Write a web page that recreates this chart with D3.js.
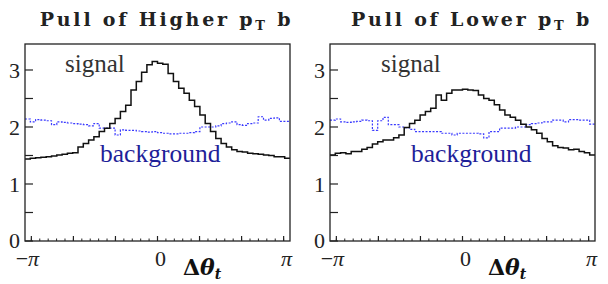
<!DOCTYPE html>
<html>
<head>
<meta charset="utf-8">
<script src="https://cdn.jsdelivr.net/npm/d3@7"></script>
<style>
body { margin: 0; background: #fff; }
svg { display: block; }
svg text { font-family: "Liberation Serif", "Times New Roman", Times, "DejaVu Serif", serif; }
</style>
</head>
<body>
<div id="chart"></div>
<script>
// panel titles
const panelNames = ["Higher", "Lower"];

// 50 bins spanning the frame
const signalHigher = [1.44,1.45,1.46,1.47,1.48,1.49,1.51,1.52,1.54,1.55,
                      1.65,1.71,1.77,1.83,1.92,1.98,2.06,2.15,2.27,2.38,
                      2.65,2.80,2.96,3.09,3.15,3.12,3.10,2.94,2.80,2.68,
                      2.59,2.47,2.36,2.21,2.06,1.92,1.80,1.71,1.65,1.60,
                      1.57,1.56,1.54,1.53,1.52,1.51,1.50,1.48,1.48,1.45];
const backgroundHigher = [2.14,2.09,2.13,2.12,2.11,2.04,2.09,2.08,2.07,2.06,
                          2.05,2.04,2.02,2.06,1.98,1.98,1.98,1.86,1.95,1.94,
                          1.94,1.93,1.92,1.91,1.92,1.90,1.89,1.88,1.88,1.89,
                          1.89,1.90,1.92,2.00,2.00,2.00,2.02,2.06,2.07,2.09,
                          2.04,2.03,2.06,2.07,2.18,2.12,2.15,2.16,2.10,2.10];
const signalLower = [1.51,1.54,1.55,1.53,1.57,1.57,1.61,1.64,1.70,1.74,
                     1.77,1.77,1.81,1.86,1.99,2.06,2.12,2.21,2.27,2.33,
                     2.56,2.47,2.59,2.65,2.65,2.66,2.65,2.64,2.56,2.50,
                     2.47,2.39,2.30,2.21,2.17,2.12,2.05,2.00,1.95,1.89,
                     1.80,1.74,1.67,1.64,1.63,1.60,1.61,1.57,1.55,1.51];
const backgroundLower = [2.12,2.14,2.09,2.08,2.09,2.10,2.12,2.11,1.94,2.11,
                         2.17,2.04,2.04,2.00,1.99,1.96,1.92,1.92,1.92,1.92,
                         1.92,1.89,1.89,1.86,1.89,1.89,1.89,1.89,1.88,1.81,
                         1.92,1.92,1.98,1.98,1.98,2.00,2.00,2.04,2.06,2.07,
                         2.09,2.09,2.12,2.12,2.09,2.13,2.13,2.12,2.12,2.05];

const yTickValues = [0, 1, 2, 3];
const xTickLabels = ["−π", "0", "π"];

const W = 608, H = 284;
const svg = d3.select("#chart").append("svg")
    .attr("width", W).attr("height", H);

const panels = [
    {left: 25, name: panelNames[0], sig: signalHigher, bkg: backgroundHigher},
    {left: 330, name: panelNames[1], sig: signalLower, bkg: backgroundLower}
];

const plotTop = 44, plotBottom = 241, pw = 265;
const xMin = -3.3, xMax = 3.3;

function histPath(vals, x, y){
    let n = vals.length;
    let pts = vals.map((v, i) => [xMin + (xMax - xMin) * i / n, v]);
    pts.push([xMax, vals[n - 1]]);
    return d3.line()
        .x(d => x(d[0]))
        .y(d => y(d[1]))
        .curve(d3.curveStepAfter)(pts);
}

panels.forEach(function(p){
    let x = d3.scaleLinear().domain([xMin, xMax]).range([p.left, p.left + pw]);
    let y = d3.scaleLinear().domain([0, 3.456]).range([plotBottom, plotTop]);
    let g = svg.append("g");

    // title
    let t = g.append("text")
        .attr("x", p.left + pw / 2 + 9)
        .attr("y", 26)
        .attr("text-anchor", "middle")
        .style("font-family", "'DejaVu Serif', serif")
        .style("font-weight", "bold")
        .style("font-size", "19px")
        .style("letter-spacing", "2.8px")
        .attr("fill", "#222");
    t.append("tspan").text("Pull of " + p.name + " p");
    t.append("tspan").attr("dy", 4).style("font-size", "13px").text("T");
    t.append("tspan").attr("dy", -4).text(" b");

    // histograms
    g.append("path")
        .attr("d", histPath(p.bkg, x, y))
        .attr("fill", "none")
        .attr("stroke", "#3a3aff")
        .attr("stroke-width", 1.2)
        .attr("stroke-dasharray", "2,1.5");
    g.append("path")
        .attr("d", histPath(p.sig, x, y))
        .attr("fill", "none")
        .attr("stroke", "#111")
        .attr("stroke-width", 1.5);

    // frame
    g.append("rect")
        .attr("x", p.left).attr("y", plotTop)
        .attr("width", pw).attr("height", plotBottom - plotTop)
        .attr("fill", "none").attr("stroke", "#222").attr("stroke-width", 1.3);

    // y ticks
    let yt = d3.range(0, 3.01, 0.5);
    g.selectAll(".ytick").data(yt).enter().append("line")
        .attr("x1", p.left).attr("x2", p.left + 8)
        .attr("y1", d => y(d)).attr("y2", d => y(d))
        .attr("stroke", "#222").attr("stroke-width", 1.2);
    g.selectAll(".ylab").data(yTickValues).enter().append("text")
        .attr("x", p.left - 5)
        .attr("y", d => y(d) + (d == 0 ? 7 : 8))
        .attr("text-anchor", "end")
        .style("font-size", "22px")
        .attr("fill", "#222")
        .text(d => d);

    // x ticks
    let major = d3.range(-3, 4).map(k => k * Math.PI / 3);
    let minor = d3.range(-15, 16).map(k => k * Math.PI / 15);
    g.selectAll(".xminor").data(minor).enter().append("line")
        .attr("x1", d => x(d)).attr("x2", d => x(d))
        .attr("y1", plotBottom).attr("y2", plotBottom - 2.5)
        .attr("stroke", "#222").attr("stroke-width", 1);
    g.selectAll(".xmajor").data(major).enter().append("line")
        .attr("x1", d => x(d)).attr("x2", d => x(d))
        .attr("y1", plotBottom).attr("y2", plotBottom - 5)
        .attr("stroke", "#222").attr("stroke-width", 1.2);

    let labPos = [-Math.PI, 0, Math.PI];
    labPos.forEach(function(v, i){
        let lab = g.append("text")
            .attr("x", x(v) + (i == 0 ? -4 : 3))
            .attr("y", 266)
            .attr("text-anchor", "middle")
            .style("font-size", "22px")
            .attr("fill", "#222");
        let s = xTickLabels[i];
        if (s.indexOf("π") >= 0) {
            if (s.length > 1) lab.append("tspan").text(s[0]);
            lab.append("tspan").style("font-style", "italic").text("π");
        } else {
            lab.text(s);
        }
    });

    // axis title
    let at = g.append("text")
        .attr("x", p.left + 158)
        .attr("y", 275)
        .style("font-family", "'DejaVu Serif', serif")
        .style("font-size", "22px")
        .style("font-weight", "bold")
        .attr("fill", "#111");
    at.append("tspan").text("Δ");
    at.append("tspan").style("font-style", "italic").text("θ");
    at.append("tspan").attr("dy", 4).style("font-style", "italic").style("font-size", "14px").text("t");

    // labels
    g.append("text")
        .attr("x", p.left + (p.left < 100 ? 40 : 51))
        .attr("y", 72)
        .style("font-size", "25px")
        .attr("fill", "#333")
        .text("signal");
    g.append("text")
        .attr("x", p.left + (p.left < 100 ? 75 : 81))
        .attr("y", 162)
        .style("font-size", "25.5px")
        .attr("fill", "#1f1f99")
        .text("background");
});
</script>
</body>
</html>
